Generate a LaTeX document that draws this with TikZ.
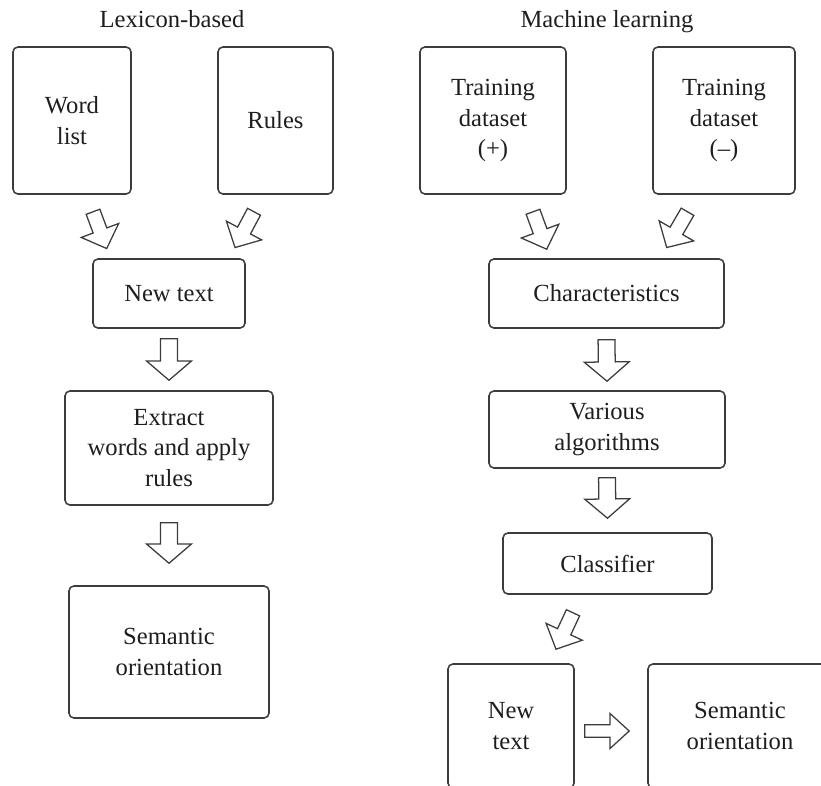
\documentclass[tikz,border=0pt]{standalone}
\usepackage{fontspec}
\setmainfont{Liberation Serif}
\usetikzlibrary{calc}
\definecolor{linegray}{HTML}{3C3C3C}
\definecolor{textgray}{HTML}{1E1E1E}
\tikzset{
  box/.style={
    draw=linegray, rectangle, rounded corners=3.5pt, line width=1.1pt,
    align=center, text=textgray, inner sep=0mm,
    font=\fontsize{17.5}{21.5}\selectfont
  },
  title/.style={
    anchor=base, text=textgray, inner sep=0mm,
    font=\fontsize{17.5}{21.5}\selectfont
  },
  fatarrow/.style 2 args={
    draw=linegray, line width=0.9pt, fill=white, line join=miter,
    to path={let \p1=(\tikztostart), \p2=(\tikztotarget),
      \n1={atan2(\y2-\y1,\x2-\x1)}, \n2={veclen(\x2-\x1,\y2-\y1)} in
      [shift={(\p1)}, rotate=\n1]
      (0pt,-#1) -- ({\n2*1pt-13.7pt},-#1) -- ({\n2*1pt-13.7pt},-#2)
      -- ({\n2*1pt},0pt) -- ({\n2*1pt-13.7pt},#2) -- ({\n2*1pt-13.7pt},#1)
      -- (0pt,#1) -- cycle}
  },
  bigarrow/.style={fatarrow={6pt}{16pt}},
  slantarrow/.style={fatarrow={5.2pt}{14.2pt}},
  smallarrow/.style={fatarrow={4.45pt}{12.5pt}}
}

\begin{document}
\begin{tikzpicture}
   \useasboundingbox (0,0) rectangle (20.525,-19.625);

   % lexicon-based
   \node[title] (lb) at (4.3, -0.675) {Lexicon-based};
   \node[box, minimum width=2.95cm, minimum height=3.675cm] (wl) at (1.8, -3.0125) {Word\\list};
   \node[box, minimum width=2.875cm, minimum height=3.675cm] (ru) at (6.8875, -3.0125) {Rules};
   \node[box, minimum width=3.8cm, minimum height=1.725cm] (nt) at (4.225, -7.3375) {New text};
   \node[box, minimum width=5.2cm, minimum height=2.85cm] (ex) at (4.225, -11.2) {Extract\\words and apply\\rules};
   \node[box, minimum width=5cm, minimum height=3.3cm] (so) at (4.225, -16.3) {Semantic\\orientation};

   \draw[slantarrow] ([xshift=0.525cm, yshift=-0.425cm]wl.south) to ([xshift=-1.5575cm, yshift=0.2425cm]nt.north);
   \draw[slantarrow] ([xshift=-0.5375cm, yshift=-0.425cm]ru.south) to ([xshift=1.65cm, yshift=0.2675cm]nt.north);
   \draw[bigarrow] ([yshift=-0.25cm]nt.south) to ([yshift=0.25cm]ex.north);
   \draw[bigarrow] ([yshift=-0.425cm]ex.south) to ([yshift=0.55cm]so.north);

   % machine learning
   \node[title] (ml) at (15.175, -0.675) {Machine learning};
   \node[box, minimum width=3.65cm, minimum height=3.675cm] (tp) at (12.325, -3.0125) {Training\\dataset\\(+)};
   \node[box, minimum width=3.55cm, minimum height=3.675cm] (tm) at (18.1, -3.0125) {Training\\dataset\\(--)};
   \node[box, minimum width=5.875cm, minimum height=1.725cm] (ch) at (15.1625, -7.3375) {Characteristics};
   \node[box, minimum width=5.9cm, minimum height=1.925cm] (va) at (15.175, -10.7375) {Various\\algorithms};
   \node[box, minimum width=5.225cm, minimum height=1.525cm] (cl) at (15.1875, -14.0875) {Classifier};
   \node[box, minimum width=3.15cm, minimum height=3.1cm] (nt2) at (12.775, -18.15) {New\\text};
   \node[box, minimum width=4.6cm, minimum height=3.1cm] (so2) at (18.5, -18.15) {Semantic\\orientation};

   \draw[slantarrow] ([xshift=1cm, yshift=-0.425cm]tp.south) to ([xshift=-1.495cm, yshift=0.225cm]ch.north);
   \draw[slantarrow] ([xshift=-0.9125cm, yshift=-0.425cm]tm.south) to ([xshift=1.505cm, yshift=0.2675cm]ch.north);
   \draw[bigarrow] ([yshift=-0.275cm]ch.south) to ([yshift=0.225cm]va.north);
   \draw[bigarrow] ([yshift=-0.225cm]va.south) to ([yshift=0.35cm]cl.north);
   \draw[slantarrow] ([xshift=-0.8625cm, yshift=-0.45cm]cl.south) to ([xshift=1.125cm, yshift=0.35cm]nt2.north);
   \draw[smallarrow] ([xshift=0.25cm, yshift=-0.125cm]nt2.east) to ([xshift=-0.45cm, yshift=-0.125cm]so2.west);
\end{tikzpicture}
\end{document}
